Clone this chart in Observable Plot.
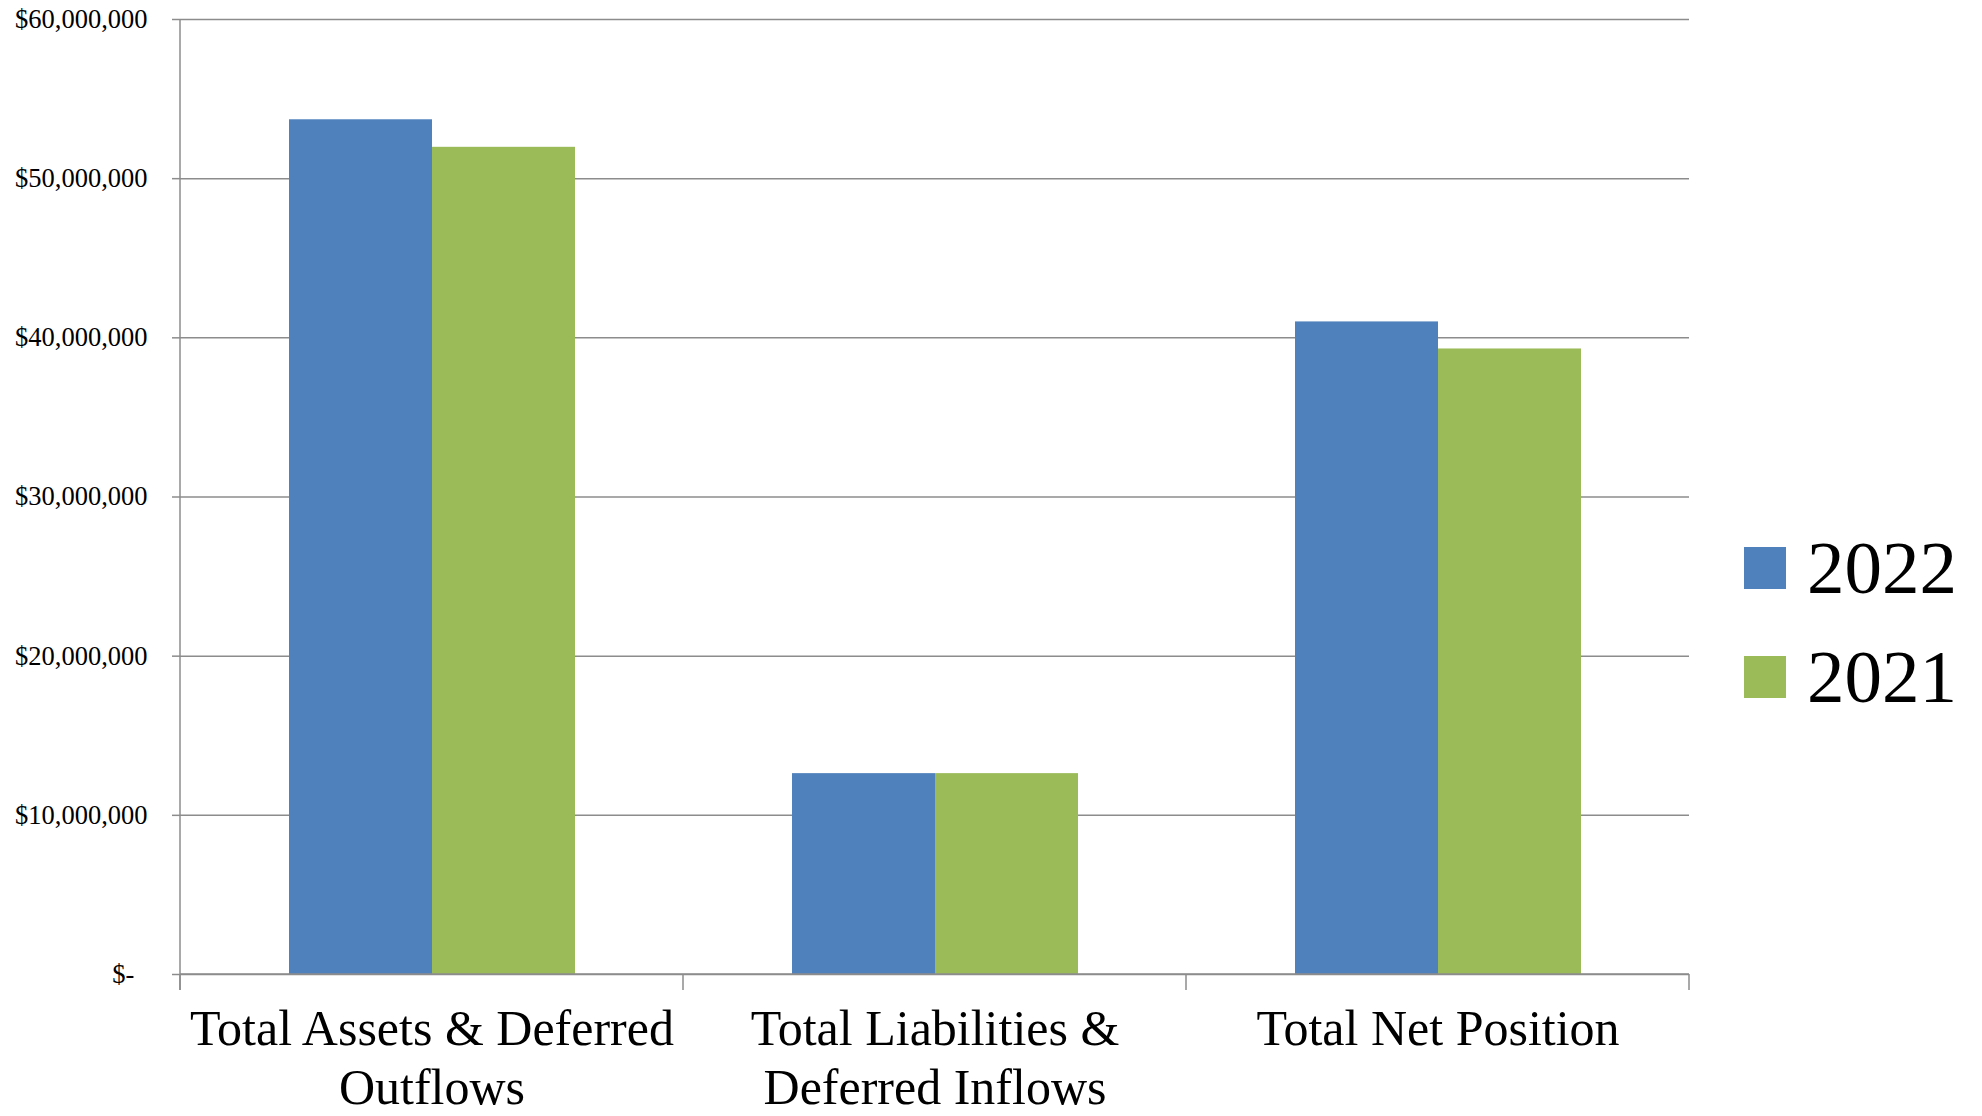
<!DOCTYPE html>
<html>
<head>
<meta charset="utf-8">
<script src="https://cdn.jsdelivr.net/npm/d3@7"></script>
<script src="https://cdn.jsdelivr.net/npm/@observablehq/plot@0.6"></script>
<style>
  html, body { margin: 0; padding: 0; background: #fff; }
  #wrap { position: relative; width: 1982px; height: 1116px; font-family: "Liberation Serif", "Times New Roman", serif; }
  .leg { position: absolute; left: 1744px; display: flex; align-items: center; height: 109px; }
  .leg .sw { width: 42px; height: 42px; margin-right: 21px; }
  .leg .lb { font-size: 75px; color: #000; line-height: 1; }
</style>
</head>
<body>
<div id="wrap"></div>
<script>
const categories = ["Total Assets & Deferred\nOutflows", "Total Liabilities &\nDeferred Inflows", "Total Net Position"];
const years = ["2022", "2021"];
const values2022 = [53700000, 12620000, 41000000];
const values2021 = [51970000, 12620000, 39300000];
const yTicks = [0, 10000000, 20000000, 30000000, 40000000, 50000000, 60000000];
const colors = ["#4f81bd", "#9bbb59"];

const data = [];
categories.forEach((c, i) => {
  data.push({category: c, year: years[0], value: values2022[i]});
  data.push({category: c, year: years[1], value: values2021[i]});
});

const gray = "#8c8c8c";
const fmt = d => d === 0 ? "$-\u2002" : "$" + d3.format(",")(d);

const chart = Plot.plot({
  width: 1982,
  height: 1116,
  marginLeft: 180,
  marginRight: 293,
  marginTop: 19,
  marginBottom: 142,
  style: {fontFamily: "'Liberation Serif', 'Times New Roman', serif", background: "#fff", color: "#000"},
  fx: {domain: categories, padding: 0, label: null},
  x: {domain: years, paddingInner: 0, paddingOuter: 0.75, axis: null},
  y: {domain: [0, 60000000], axis: null},
  color: {domain: years, range: colors},
  marks: [
    Plot.gridY(yTicks, {stroke: gray, strokeOpacity: 1, strokeWidth: 1.5}),
    Plot.barY(data, {fx: "category", x: "year", y: "value", fill: "year"}),
    Plot.axisY(yTicks, {tickSize: 8, tickPadding: 25, tickFormat: fmt, fontSize: 26.5, stroke: gray, strokeWidth: 1.5, label: null, fill: "#000"}),
    Plot.axisFx({anchor: "bottom", tickSize: 0, tickPadding: 29, fontSize: 50, lineHeight: 1.17, label: null, fill: "#000"})
  ]
});

document.getElementById("wrap").appendChild(chart);

// axis lines derived from the plot's scales
const fx = chart.scale("fx");
const y = chart.scale("y");
const svg = d3.select(chart);
const y0 = y.apply(0), yTop = y.apply(60000000);
const x0 = fx.apply(categories[0]);
const xEnd = fx.apply(categories[categories.length - 1]) + fx.bandwidth;
const g = svg.append("g").attr("stroke", gray).attr("stroke-width", 1.5);
g.append("line").attr("x1", x0).attr("x2", x0).attr("y1", yTop).attr("y2", y0 + 16);
const bounds = categories.map(c => fx.apply(c)).concat([xEnd]);
bounds.forEach(b => g.append("line").attr("x1", b).attr("x2", b).attr("y1", y0).attr("y2", y0 + 16));
g.append("line").attr("x1", x0).attr("x2", xEnd).attr("y1", y0).attr("y2", y0);

// legend
const wrap = document.getElementById("wrap");
const legTops = [513, 622];
years.forEach((yr, i) => {
  const row = document.createElement("div");
  row.className = "leg";
  row.style.top = legTops[i] + "px";
  row.innerHTML = `<div class="sw" style="background:${colors[i]}"></div><div class="lb">${yr}</div>`;
  wrap.appendChild(row);
});
</script>
</body>
</html>
